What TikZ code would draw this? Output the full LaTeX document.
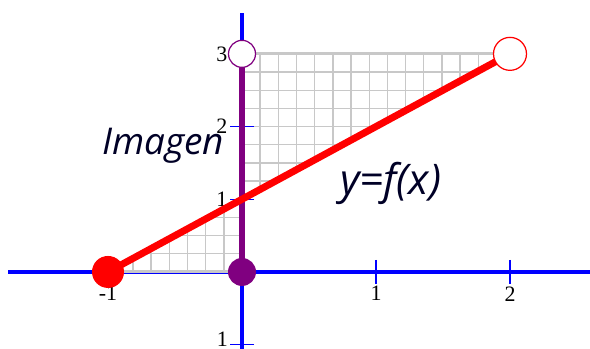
\documentclass[tikz,border=0pt]{standalone}
\usepackage{fontspec}
\setmainfont{Liberation Serif}
\newfontfamily\labelfont{Open Sans}
\definecolor{gridgray}{RGB}{200,200,200}
\definecolor{axisblue}{RGB}{0,0,255}
\definecolor{fpurple}{RGB}{128,0,128}
\definecolor{fred}{RGB}{255,0,0}
\tikzset{
  gridline/.style={gridgray, line width=0.8pt},
  gridedge/.style={gridgray, line width=1.7pt},
  axisline/.style={axisblue, line width=1.8pt},
  tickline/.style={axisblue, line width=0.85pt},
  ticklabel/.style={text=black, font=\fontsize{12.5}{12.5}\selectfont, inner sep=1pt},
  bigtext/.style={text=black!85!blue, font=\labelfont\itshape\fontsize{21}{21}\selectfont, inner sep=0pt}
}
\begin{document}
\begin{tikzpicture}[x=2.68cm, y=1.454cm]
        \useasboundingbox (-1.806,-1.059) rectangle (2.597,3.741);
        % Points
        \coordinate (A) at (-1,0);
        \coordinate (B) at (2,3);
        \coordinate (O) at (0,0);
        \coordinate (T) at (0,3);
        \coordinate (Y) at (0,1);

        % Grid patches (square cells: 0.25 in y, 0.1356 in x)
        \begin{scope}
          \clip (A) -- (O) -- (Y) -- cycle;
          \foreach \k in {1,...,4}
            \draw[gridline] (-1,\k*0.25) -- (0,\k*0.25);
          \foreach \k in {1,...,8}
            \draw[gridline] (-\k*0.13563,0) -- (-\k*0.13563,1);
        \end{scope}
        \begin{scope}
          \clip (Y) -- (T) -- (B) -- cycle;
          \foreach \k in {4,...,12}
            \draw[gridline] (0,\k*0.25) -- (2,\k*0.25);
          \foreach \k in {1,...,15}
            \draw[gridline] (\k*0.13563,1) -- (\k*0.13563,3);
        \end{scope}

        % Axes
        \draw[axisline] (-1.746,0) -- (2.597,0);
        \draw[axisline] (0,-1.059) -- (0,3.56);
        \draw[gridedge] (A) -- (O);
        \draw[gridedge] (T) -- (B);

        % Ticks
        \foreach \xv/\xl in {-1/-1, 1/1, 2/2}
          \draw[tickline] (\xv,0.165) -- (\xv,-0.165) node[ticklabel, below] (xt\xv) {\xl};
        \foreach \yv/\yl in {3/3, 2/2, 1/1}
          \draw[tickline] (0.09,\yv) -- (-0.09,\yv) node[ticklabel, left] (yt\yv) {\yl};
        \draw[tickline] (0.09,-1) -- (-0.09,-1);
        \node[ticklabel, anchor=south east] (ytm1) at (-0.09,-1.059) {1};

        % Graph
        \draw[fpurple, line width=3.7pt] (O) -- (T);
        \draw[fred, line width=4pt] (A) -- (B);
        \fill[fred] (A) circle (0.32cm);
        \draw[fred, fill=white, line width=0.7pt] (B) circle (0.33cm);
        \fill[fpurple] (O) circle (0.28cm);
        \draw[fpurple, fill=white, line width=0.7pt] (T) circle (0.27cm);

        % Labels
        \node[bigtext, anchor=base] (imagen) at (-0.59,1.61) {Imagen};
        \node[bigtext, anchor=base, font=\labelfont\itshape\fontsize{24}{24}\selectfont] (fx) at (1.11,1.06) {y=f(x)};
    \end{tikzpicture}
\end{document}
